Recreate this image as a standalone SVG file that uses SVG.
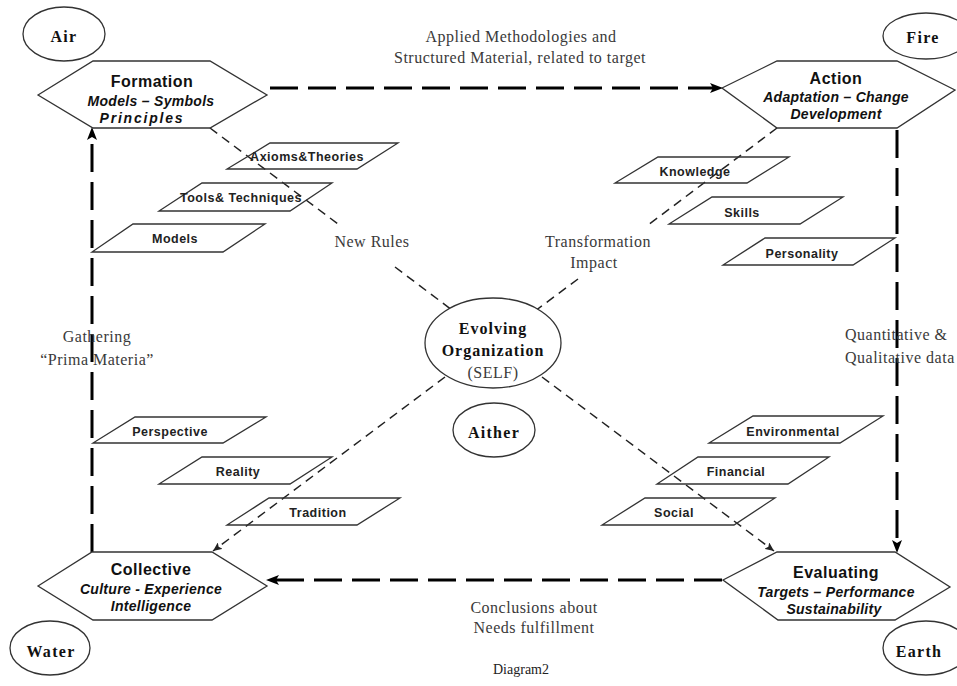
<svg xmlns="http://www.w3.org/2000/svg" width="957" height="686" viewBox="0 0 957 686">
<defs>
<style>
.bg{fill:#fff}
.hex{fill:#fff;stroke:#333;stroke-width:1.3}
.par{fill:none;stroke:#333;stroke-width:1.3}
.ell{fill:#fff;stroke:#333;stroke-width:1.3}
.thick{fill:none;stroke:#000;stroke-width:3;stroke-dasharray:28 10}
.thin{fill:none;stroke:#222;stroke-width:1.5;stroke-dasharray:9 6}
.ht{font-family:"Liberation Sans",Arial,sans-serif;font-weight:bold;font-size:16px;letter-spacing:0.5px;fill:#111;text-anchor:middle}
.hs{font-family:"Liberation Sans",Arial,sans-serif;font-weight:bold;font-style:italic;font-size:14px;letter-spacing:0.3px;fill:#111;text-anchor:middle}
.pt{font-family:"Liberation Sans",Arial,sans-serif;font-weight:bold;font-size:12.5px;letter-spacing:0.5px;fill:#222;text-anchor:middle}
.el{font-family:"Liberation Serif","Times New Roman",serif;font-weight:bold;font-size:16px;letter-spacing:1.3px;fill:#111;text-anchor:middle}
.lb{font-family:"Liberation Serif","Times New Roman",serif;font-size:16px;letter-spacing:0.5px;fill:#3a3a3a;text-anchor:middle}
</style>
<marker id="ah" markerUnits="userSpaceOnUse" markerWidth="14" markerHeight="12" viewBox="0 0 14 12" refX="6" refY="6" orient="auto">
<path d="M0,1 L13,6 L0,11 L3,6 z" fill="#000"/>
</marker>
<marker id="as" markerUnits="userSpaceOnUse" markerWidth="10" markerHeight="8" viewBox="0 0 10 8" refX="9" refY="4" orient="auto">
<path d="M0,0 L9,4 L0,8 L2,4 z" fill="#222"/>
</marker>
</defs>
<rect class="bg" x="0" y="0" width="957" height="686"/>

<g id="connectors">
<path class="thick" d="M270 88 H716" marker-end="url(#ah)"/>
<path class="thick" d="M897 130 V546" marker-end="url(#ah)"/>
<path class="thick" d="M722 580 H273" marker-end="url(#ah)"/>
<path class="thick" d="M92 552 V134" marker-end="url(#ah)"/>
<path class="thin" d="M210 128 L342 227"/>
<path class="thin" d="M395 267 L452 310"/>
<path class="thin" d="M777 128 L648 225"/>
<path class="thin" d="M578 279 L535 311"/>
<path class="thin" d="M445 377 L213 551" marker-end="url(#as)"/>
<path class="thin" d="M542 377 L774 551" marker-end="url(#as)"/>
</g>

<g id="labels">
<text class="lb" x="521" y="42">Applied Methodologies and</text>
<text class="lb" x="520" y="63">Structured Material, related to target</text>
<text class="lb" x="372" y="247">New Rules</text>
<text class="lb" x="598" y="247">Transformation</text>
<text class="lb" x="594" y="268">Impact</text>
<text class="lb" x="97" y="342">Gathering</text>
<text class="lb" x="97" y="365">“Prima Materia”</text>
<text class="lb" x="845" y="340" style="text-anchor:start">Quantitative &amp;</text>
<text class="lb" x="845" y="363" style="text-anchor:start">Qualitative data</text>
<text class="lb" x="534" y="613">Conclusions about</text>
<text class="lb" x="534" y="633">Needs fulfillment</text>
<text class="lb" x="521" y="674" style="font-size:14px;letter-spacing:0;fill:#222">Diagram2</text>
</g>

<g id="air"><ellipse class="ell" cx="64" cy="34" rx="41" ry="27"/><text class="el" x="64" y="42">Air</text></g>
<g id="fire"><ellipse class="ell" cx="926" cy="36" rx="43" ry="23"/><text class="el" x="923" y="43">Fire</text></g>
<g id="water"><ellipse class="ell" cx="50" cy="648" rx="40" ry="27"/><text class="el" x="51" y="657">Water</text></g>
<g id="earth"><ellipse class="ell" cx="926" cy="648" rx="43" ry="27"/><text class="el" x="919" y="657">Earth</text></g>
<g id="aither"><ellipse class="ell" cx="494" cy="430" rx="41" ry="27"/><text class="el" x="494" y="438">Aither</text></g>

<g id="self">
<ellipse class="ell" cx="493" cy="343" rx="68" ry="45"/>
<text class="el" x="493" y="334" style="letter-spacing:1px">Evolving</text>
<text class="el" x="493" y="356" style="letter-spacing:1px">Organization</text>
<text class="lb" x="493" y="378">(SELF)</text>
</g>

<g id="formation">
<polygon class="hex" points="38,95 93,61 210,61 267,95 210,128 93,128"/>
<text class="ht" x="152" y="87">Formation</text>
<text class="hs" x="151" y="106">Models – Symbols</text>
<text class="hs" x="142" y="123" style="letter-spacing:1.8px">Principles</text>
</g>
<g id="action">
<polygon class="hex" points="722,88 777,61 897,61 955,90 897,128 777,128"/>
<text class="ht" x="836" y="84">Action</text>
<text class="hs" x="836" y="102">Adaptation – Change</text>
<text class="hs" x="836" y="119">Development</text>
</g>
<g id="collective">
<polygon class="hex" points="38,586 92,552 212,552 267,586 212,620 93,620"/>
<text class="ht" x="151" y="575">Collective</text>
<text class="hs" x="151" y="594">Culture - Experience</text>
<text class="hs" x="151" y="611">Intelligence</text>
</g>
<g id="evaluating">
<polygon class="hex" points="723,580 777,552 895,552 950,587 895,620 778,620"/>
<text class="ht" x="836" y="578">Evaluating</text>
<text class="hs" x="836" y="597">Targets – Performance</text>
<text class="hs" x="834" y="614">Sustainability</text>
</g>

<g id="axioms"><polygon class="par" points="270,143 398,143 357,169 227,169"/><text class="pt" x="307" y="161">Axioms&amp;Theories</text></g>
<g id="tools"><polygon class="par" points="202,183 332,183 290,211 159,211"/><text class="pt" x="241" y="201.5">Tools&amp; Techniques</text></g>
<g id="models"><polygon class="par" points="133,224 265,224 223,252 92,252"/><text class="pt" x="175" y="242.5">Models</text></g>
<g id="knowledge"><polygon class="par" points="658,157 789,157 747,183 615,183"/><text class="pt" x="695" y="175.5">Knowledge</text></g>
<g id="skills"><polygon class="par" points="712,197 843,197 800,224 669,224"/><text class="pt" x="742" y="216.5">Skills</text></g>
<g id="personality"><polygon class="par" points="765,238 895,238 853,265 723,265"/><text class="pt" x="802" y="257.5">Personality</text></g>
<g id="perspective"><polygon class="par" points="135,417 266,417 223,443 93,443"/><text class="pt" x="170" y="435.5">Perspective</text></g>
<g id="reality"><polygon class="par" points="202,457 332,457 290,484 159,484"/><text class="pt" x="238" y="476">Reality</text></g>
<g id="tradition"><polygon class="par" points="269,498 400,498 357,525 227,525"/><text class="pt" x="318" y="516.5">Tradition</text></g>
<g id="environmental"><polygon class="par" points="753,416 883,416 840,443 709,443"/><text class="pt" x="793" y="435.5">Environmental</text></g>
<g id="financial"><polygon class="par" points="698,457 829,457 788,484 657,484"/><text class="pt" x="736" y="475.5">Financial</text></g>
<g id="social"><polygon class="par" points="645,498 775,498 734,525 602,525"/><text class="pt" x="674" y="516.5">Social</text></g>
</svg>
